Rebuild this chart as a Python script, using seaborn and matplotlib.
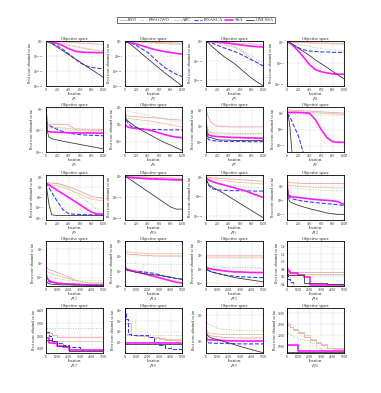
import matplotlib
matplotlib.use("Agg")
import matplotlib.pyplot as plt
from matplotlib.lines import Line2D
from matplotlib.ticker import NullLocator
import numpy as np
import seaborn as sns

ALGOS = ["IWO", "PWAGWO", "ABC", "ISSASCA", "SSA", "GNLSSA"]

ITER_1K = [0, 20, 50, 100, 200, 300, 400, 500, 600, 700, 800, 900, 1000]
ITER_5K = [0, 20, 100, 250, 500, 1000, 1500, 2000, 2500, 3000, 3500, 4000, 4500, 5000]

# log10 of best score, one row per algorithm (IWO, PWAGWO, ABC, ISSASCA, SSA, GNLSSA)
F1 = [[0, 0, -1, -2, -4, -6, -8, -10, -12, -14, -16, -18, -20],
      [0, 0, -1, -3, -8, -15, -22, -30, -38, -45, -52, -58, -62],
      [0, 0, -1, -3, -10, -18, -26, -34, -42, -50, -56, -62, -66],
      [0, -1, -3, -10, -30, -55, -85, -115, -145, -165, -175, -181, -185],
      [0, 0, -2, -5, -15, -30, -50, -65, -72, -74, -75, -76, -76],
      [0, -2, -6, -15, -40, -65, -90, -115, -140, -165, -190, -215, -240]]
F2 = [[0, 0, 0, -1, -1, -2, -2, -3, -3, -4, -4, -5, -5],
      [0, 0, -1, -1, -2, -3, -4, -5, -6, -7, -8, -9, -10],
      [0, 0, 0, -1, -2, -3, -4, -5, -6, -7, -8, -8, -9],
      [0, -1, -2, -5, -13, -25, -37, -55, -72, -88, -100, -110, -118],
      [0, 0, -1, -3, -8, -14, -20, -26, -30, -34, -37, -40, -42],
      [0, -1, -3, -10, -25, -42, -58, -74, -90, -106, -120, -135, -150]]
F3 = [[0, 0, 0, -1, -2, -4, -6, -8, -10, -12, -13, -15, -16],
      [0, 0, -1, -2, -6, -12, -18, -26, -38, -55, -75, -95, -110],
      [0, 0, -1, -3, -8, -14, -22, -32, -45, -65, -90, -110, -128],
      [0, -1, -3, -8, -20, -32, -42, -52, -65, -80, -95, -110, -126],
      [0, 0, 0, -1, -3, -6, -10, -14, -18, -22, -25, -27, -29],
      [0, -3, -10, -25, -50, -75, -95, -115, -140, -165, -190, -210, -228]]
F4 = [[0, 0, 0, -1, -1, -2, -2, -3, -3, -3, -4, -4, -4],
      [0, 0, -1, -2, -5, -8, -11, -14, -16, -18, -19, -20, -21],
      [0, 0, 0, -1, -1, -2, -3, -3, -4, -4, -5, -5, -5],
      [0, -1, -3, -7, -14, -19, -22, -23, -24, -24, -25, -25, -25],
      [0, -1, -3, -8, -22, -38, -55, -66, -71, -74, -76, -77, -77],
      [0, 0, -2, -6, -15, -24, -33, -43, -52, -61, -70, -79, -88]]
F5 = [[0, -6.8, -7, -7, -7.1, -7.2, -7.3, -9.2, -9.3, -9.3, -9.4, -9.4, -9.5],
      [0, -8.5, -8.8, -9, -9.2, -9.4, -9.6, -9.8, -10, -10.2, -10.3, -10.4, -10.5],
      [0, -8, -8.3, -8.4, -8.6, -8.8, -9, -9.5, -9.7, -9.8, -9.9, -9.9, -10],
      [0, -7, -7.5, -8.2, -9.5, -10.5, -11.2, -11.6, -11.9, -12.1, -12.2, -12.3, -12.4],
      [0, -10, -10.5, -10.7, -10.8, -10.9, -11, -11, -11.1, -11.1, -11.1, -11.2, -11.2],
      [0, -10, -13, -13.8, -14.4, -15, -15.5, -16, -16.5, -17, -17.5, -18, -18.5]]
F6 = [[4.5, 2.5, 2.4, 2.3, 2.2, 2.1, 2, 1.9, 1.8, 1.6, 1.4, 1.3, 1.2],
      [4.5, 4, 3.8, 3.6, 3.3, 3, 2.7, 2.3, 1.9, 1.5, 1.1, 0.8, 0.5],
      [4, 1.8, 1.7, 1.6, 1.4, 1.2, 1, 0.8, 0.5, 0.2, -0.2, -0.5, -0.8],
      [3, 1, 0.5, -0.5, -1, -1.3, -1.5, -1.5, -1.5, -1.6, -1.6, -1.6, -1.6],
      [0, -0.5, -0.8, -1, -1.2, -1.4, -1.6, -2, -2.5, -3, -3.4, -3.7, -3.9],
      [2, 1.5, 1, 0.3, -0.8, -1.8, -2.7, -3.6, -4.5, -5.3, -6, -6.8, -7.5]]
F7 = [[6, 4, 2.5, 1, 0, -0.1, -0.2, -0.2, -0.2, -0.2, -0.2, -0.2, -0.2],
      [3, 0, -1.5, -2, -2.4, -2.5, -2.6, -2.6, -2.6, -2.6, -2.6, -2.6, -2.6],
      [2, -1, -1.8, -2, -2.1, -2.1, -2.2, -2.2, -2.2, -2.2, -2.2, -2.2, -2.2],
      [0, -3.5, -4.2, -4.4, -4.6, -4.7, -4.7, -4.7, -4.7, -4.8, -4.8, -4.8, -4.8],
      [1, -2, -2.8, -3, -3.2, -3.3, -3.4, -3.5, -3.5, -3.6, -3.6, -3.7, -3.7],
      [0, -3, -3.5, -3.6, -4.2, -4.3, -4.3, -4.4, -4.4, -4.4, -4.4, -4.4, -4.4]]
F8 = [[1.5, 1.2, 1.1, 1, 0.9, 0.8, 0.7, 0.6, 0.5, 0.4, 0.3, 0.2, 0.1],
      [1, 0, -0.2, -0.3, -0.4, -0.4, -0.4, -0.4, -0.5, -0.5, -0.5, -0.5, -0.5],
      [1.2, 0.8, 0.7, 0.6, 0.5, 0.4, 0.3, 0.2, 0.1, 0, -0.1, -0.2, -0.3],
      [0, -0.3, -1, -3, -7, -13, -20, -30, -30, -30, -30, -30, -30],
      [0.5, 0.3, 0.3, 0.3, 0.3, 0.2, 0, -2, -5, -7.5, -8.8, -9, -9],
      [0, -0.5, -4, -15, -30, -30, -30, -30, -30, -30, -30, -30, -30]]
F9 = [[2.2, 2.2, 2.1, 2, 1.8, 1.2, 0.3, -0.8, -2, -3.2, -4.5, -5, -5.3],
      [2.2, 2.2, 2.2, 2.2, 2, 1, -0.5, -2.5, -4.5, -6.5, -8.5, -11, -13.5],
      [1.5, 1.5, 1.4, 1.2, 0.8, 0, -1, -2.2, -3.4, -4.6, -5.8, -6.3, -6.6],
      [2.2, 1.5, 0, -2.5, -7, -11, -13, -13.2, -13.3, -13.4, -13.5, -13.5, -13.5],
      [2.2, 1.8, 1.2, 0.3, -1.5, -3.3, -5, -6.8, -8.6, -10.4, -12.2, -13, -13.2],
      [2, -2, -8, -13.5, -13.8, -13.8, -13.8, -13.8, -13.8, -13.8, -13.8, -13.8, -13.8]]
F10 = [[0, -1, -1.5, -2, -3, -4, -5, -6, -7, -8, -9, -10, -11],
       [0, -1, -2, -3, -5, -7, -9, -11, -13, -15, -17, -19, -20],
       [-1, -2, -3, -4, -5, -6, -7, -8, -9, -10, -11, -12, -13],
       [-2, -4, -6, -8, -10, -12, -13, -14, -15, -16, -17, -17, -18],
       [-2, -3, -5, -7, -9, -11, -13, -14, -15, -16, -17, -18, -19],
       [0, -4, -9, -18, -37, -55, -74, -92, -111, -129, -148, -158, -158]]
F11 = [[0, 0, -1, -2, -3, -4, -5, -6, -7, -8, -9, -10, -11],
       [-5, -8, -12, -15, -18, -20, -22, -23, -24, -25, -26, -27, -28],
       [-2, -3, -4, -5, -7, -9, -11, -13, -14, -15, -16, -17, -18],
       [-5, -12, -22, -30, -33, -34, -35, -35, -35, -35, -36, -36, -36],
       [-2, -5, -8, -11, -16, -20, -24, -28, -32, -36, -42, -47, -52],
       [-5, -12, -20, -25, -33, -41, -50, -59, -68, -77, -86, -95, -104]]
F12 = [[4, 1.5, 1.3, 1.2, 1.1, 1, 1, 1, 1, 1, 1, 1, 1],
       [2, 0, -0.3, -0.5, -0.8, -1, -1.2, -1.3, -1.5, -1.5, -1.6, -1.6, -1.6],
       [3, 0.5, 0.3, 0.2, 0, -0.2, -0.3, -0.4, -0.5, -0.5, -0.6, -0.6, -0.6],
       [1, -3, -4, -4.5, -5, -5.3, -5.6, -5.8, -6, -6.2, -6.4, -6.6, -6.8],
       [1, -3, -3.5, -3.8, -4, -4.2, -4.5, -4.7, -4.9, -5, -5.2, -5.5, -6.5],
       [1, -4, -5.5, -6, -6.8, -7.4, -8, -8.5, -9, -9.5, -9.8, -10, -10]]
F13 = [[8, -0.8, -1.6, -2.1, -2.4, -3.2, -4, -4.8, -5.8, -6.4, -6.7, -6.9, -6.9, -6.9],
       [5, -3, -4, -4.6, -5, -5.4, -5.7, -6, -6, -6, -6, -6, -6, -6],
       [6, -2, -2.8, -3.2, -3.6, -4.2, -4.8, -5.4, -6, -6.5, -6.8, -7, -7, -7],
       [4, -5, -6, -6.5, -6.8, -7, -7.1, -7.2, -7.3, -7.4, -7.5, -7.5, -7.6, -7.6],
       [5, -4, -5.2, -6, -6.5, -7, -7.2, -7.3, -7.4, -7.5, -7.6, -7.6, -7.7, -7.7],
       [3, -6, -6.8, -7.2, -7.4, -7.5, -7.6, -7.6, -7.7, -7.7, -7.7, -7.8, -7.8, -7.8]]
F14 = [[6, 2.5, 2.4, 2.3, 2.2, 2.2, 2.1, 2.1, 2, 2, 2, 2, 2, 2],
       [5, 1.2, 1.1, 1, 1, 1, 0.9, 0.9, 0.9, 0.9, 0.9, 0.9, 0.9, 0.9],
       [5, 2.8, 2.7, 2.6, 2.5, 2.4, 2.4, 2.3, 2.3, 2.3, 2.3, 2.3, 2.3, 2.3],
       [4, 0.3, 0.2, 0.1, 0, 0, -0.1, -0.2, -0.3, -0.5, -0.7, -0.9, -1, -1.1],
       [4, 0.5, 0.3, 0.2, 0.1, -0.1, -0.3, -0.5, -0.7, -0.9, -1.1, -1.3, -1.5, -1.6],
       [4, 0.3, 0.2, 0.1, 0, -0.2, -0.3, -0.4, -0.5, -0.6, -0.7, -0.8, -1, -1.1]]
F15 = [[10, 4.7, 4.7, 4.7, 4.7, 4.7, 4.7, 4.7, 4.7, 4.7, 4.7, 4.7, 4.7, 4.7],
       [6, 1.5, 1.3, 1.2, 1, 0.8, 0.6, 0.5, 0.5, 0.5, 0.5, 0.5, 0.5, 0.5],
       [8, 4.2, 4.1, 4, 4, 4, 4, 4, 4, 4, 4, 4, 4, 4],
       [4, 0.4, 0, -0.5, -1, -1.5, -2, -2.3, -2.5, -2.7, -2.8, -2.9, -3, -3],
       [5, 0.7, 0.5, 0.3, 0, -0.3, -0.6, -0.8, -1, -1, -1.1, -1.2, -1.2, -1.2],
       [3, 0, -0.3, -0.6, -1, -1.5, -2, -2.5, -3, -3.3, -3.6, -3.9, -4.2, -4.5]]
# linear panel (raw values, x1e4)
F16 = [[1.55, 0.72, 0.72, 0.72, 0.72, 0.72, 0.72, 0.72, 0.72, 0.72, 0.72, 0.72, 0.72, 0.72],
       [1.5, 0.66, 0.65, 0.64, 0.64, 0.64, 0.64, 0.64, 0.64, 0.64, 0.64, 0.64, 0.64, 0.64],
       [1.5, 0.69, 0.69, 0.68, 0.68, 0.68, 0.68, 0.68, 0.68, 0.68, 0.68, 0.68, 0.68, 0.68],
       [1.3, 0.62, 0.55, 0.45, 0.36, 0.36, 0.36, 0.36, 0.36, 0.36, 0.36, 0.36, 0.36, 0.36],
       [1.55, 0.8, 0.75, 0.71, 0.7, 0.65, 0.59, 0.37, 0.37, 0.37, 0.37, 0.37, 0.37, 0.37],
       [0.9, 0.66, 0.65, 0.65, 0.65, 0.65, 0.43, 0.42, 0.42, 0.42, 0.41, 0.41, 0.41, 0.41]]
F17 = [[1417, 1225, 1225, 1225, 1210, 1190, 1190, 1190, 1190, 1190, 1190, 1190, 1190, 1190],
       [1417, 1300, 1262, 1262, 1262, 1262, 1262, 1262, 1262, 1262, 1262, 1262, 1262, 1262],
       [1300, 1163, 1163, 1163, 1163, 1163, 1163, 1163, 1163, 1163, 1163, 1163, 1163, 1163],
       [1417, 1235, 1235, 1200, 1150, 1150, 1130, 1112, 1112, 1095, 1095, 1095, 1095, 1095],
       [1417, 1187, 1187, 1150, 1150, 1125, 1112, 1095, 1095, 1095, 1095, 1095, 1095, 1095],
       [1300, 1173, 1173, 1173, 1160, 1125, 1125, 1088, 1088, 1088, 1088, 1088, 1088, 1088]]
F18 = [[4.2, 2.8, 2.8, 2.8, 1.7, 1.65, 1.6, 1.5, 1.4, 1.3, 1.26, 1.26, 1.26, 1.26],
       [3, 1.7, 1.7, 1.7, 1.7, 1.7, 1.7, 1.7, 1.7, 1.7, 1.7, 1.7, 1.7, 1.7],
       [3.5, 1.75, 1.75, 1.7, 1.65, 1.6, 1.55, 1.5, 1.45, 1.4, 1.35, 1.35, 1.35, 1.35],
       [4.2, 3.8, 3.15, 1.76, 1.68, 1.68, 1.68, 1.47, 1.05, 0.76, 0.5, 0.42, 0.34, 0.25],
       [0.92, 0.92, 0.92, 0.92, 0.92, 0.92, 0.92, 0.92, 0.92, 0.92, 0.92, 0.92, 0.92, 0.92],
       [0.86, 0.86, 0.86, 0.86, 0.86, 0.86, 0.86, 0.86, 0.86, 0.86, 0.86, 0.86, 0.86, 0.86]]
F19 = [[1.5, 0.5, 0.3, 0.25, 0.2, 0.18, 0.15, 0.14, 0.13, 0.13, 0.13, 0.13, 0.13, 0.13],
       [1.3, 0.75, 0.7, 0.65, 0.6, 0.5, 0.46, 0.44, 0.43, 0.42, 0.42, 0.42, 0.42, 0.42],
       [1.4, 0.55, 0.4, 0.32, 0.3, 0.28, 0.27, 0.26, 0.26, 0.26, 0.26, 0.26, 0.26, 0.26],
       [1.5, 0.1, -0.05, -0.06, -0.07, -0.08, -0.08, -0.09, -0.09, -0.1, -0.1, -0.1, -0.1, -0.1],
       [1.5, 0.2, 0.08, 0.06, 0.05, 0.04, 0.03, 0.02, 0.02, 0.01, 0.01, 0.01, 0.01, 0.01],
       [0.5, 0.32, 0.25, 0.18, 0.12, 0.07, 0.0, -0.06, -0.13, -0.2, -0.26, -0.32, -0.38, -0.44]]
F20 = [[2600, 2550, 2500, 2400, 2250, 2100, 1950, 1800, 1650, 1550, 1450, 1420, 1420, 1420],
       [2200, 2150, 2100, 2000, 1950, 1850, 1780, 1650, 1450, 1320, 1300, 1300, 1300, 1300],
       [2470, 2470, 2420, 2390, 2300, 2150, 2000, 1850, 1700, 1600, 1420, 1380, 1380, 1380],
       [3250, 1220, 1220, 1220, 1220, 1220, 1220, 1220, 1220, 1220, 1220, 1220, 1220, 1220],
       [3250, 1570, 1570, 1570, 1570, 1280, 1280, 1280, 1280, 1280, 1280, 1280, 1280, 1280],
       [3250, 1230, 1230, 1230, 1230, 1230, 1230, 1230, 1230, 1230, 1230, 1230, 1230, 1230]]

PANELS = [F1, F2, F3, F4, F5, F6, F7, F8, F9, F10,
          F11, F12, F13, F14, F15, F16, F17, F18, F19, F20]

# (log scale, y limits, y ticks) per panel; for log panels values are exponents
YSPEC = [(True, (-300, 2), [0, -100, -200, -300]),
         (True, (-150, 2), [0, -50, -100, -150]),
         (True, (-230, 2), [0, -100, -200]),
         (True, (-105, 2), [0, -50, -100]),
         (True, (-20, 1), [0, -10, -20]),
         (True, (-8, 5), [5, 0, -5]),
         (True, (-8, 6), [5, 0, -5]),
         (True, (-12, 2), [0, -5, -10]),
         (True, (-16, 6), [5, 0, -5, -10, -15]),
         (True, (-210, 5), [0, -100, -200]),
         (True, (-110, 5), [0, -50, -100]),
         (True, (-12, 4), [0, -5, -10]),
         (True, (-8, 8), [5, 0, -5]),
         (True, (-2, 4), [4, 2, 0, -2]),
         (True, (-6, 10), [10, 5, 0, -5]),
         (False, (0.35, 1.55), [0.4, 0.6, 0.8, 1.0, 1.2, 1.4]),
         (False, (1069, 1417), [1100, 1200, 1300, 1400]),
         (True, (0, 4.2), [1, 2, 3, 4]),
         (True, (-0.45, 1.28), [1, 0]),
         (False, (1200, 3250), [1500, 2000, 2500, 3000])]
STEP_PANELS = (15, 16, 17, 19)

COLORS = ["#f4a3a3", "#9ad49a", "#e9c3a4", "#3b3bff", "#ff1aff", "#3c3c3c"]
STYLES = ["-", ":", "-", "--", "-", "-"]
WIDTHS = [0.6, 0.7, 0.6, 0.8, 1.2, 0.6]

W, H = 381, 393
LEFTS = [46, 125, 206, 287]
TOPS = [41, 107, 175, 241, 308]
AX_W, AX_H = 57, 45

sns.set_theme(style="white")
plt.rcParams["font.family"] = ["Liberation Serif", "DejaVu Serif"]
plt.rcParams["mathtext.fontset"] = "stix"

fig = plt.figure(figsize=(W / 100, H / 100), dpi=100)

for i, data in enumerate(PANELS):
    r, c = divmod(i, 4)
    ax = fig.add_axes([LEFTS[c] / W, 1 - (TOPS[r] + AX_H) / H, AX_W / W, AX_H / H])
    x = ITER_1K if r < 3 else ITER_5K
    is_log, lim, ticks = YSPEC[i]
    ds = "steps-post" if i in STEP_PANELS else "default"
    for k, name in enumerate(ALGOS):
        y = np.array(data[k], dtype=float)
        if is_log:
            y = 10.0 ** y
        sns.lineplot(x=x, y=y, ax=ax, color=COLORS[k], linestyle=STYLES[k],
                     linewidth=WIDTHS[k], drawstyle=ds)
    if is_log:
        ax.set_yscale("log")
        ax.set_ylim(10.0 ** lim[0], 10.0 ** lim[1])
        ax.set_yticks([10.0 ** t for t in ticks])
    else:
        ax.set_ylim(*lim)
        ax.set_yticks(ticks)
    ax.yaxis.set_minor_locator(NullLocator())
    ax.set_xlim(0, x[-1])
    ax.set_xticks(np.linspace(0, x[-1], 6))
    ax.grid(True, color="#dcdcdc", linewidth=0.3)
    ax.tick_params(labelsize=2.5, length=1, width=0.3, pad=0.5)
    ax.yaxis.get_offset_text().set_fontsize(2.5)
    for s in ax.spines.values():
        s.set_linewidth(0.6)
        s.set_color("black")
    ax.set_title("Objective space", fontsize=3.1, pad=0.6)
    ax.set_xlabel("Iteration", fontsize=2.9, labelpad=0.1)
    ax.set_ylabel("Best score obtained so far", fontsize=2.8, labelpad=0.8)
    fig.text((LEFTS[c] + AX_W / 2) / W, 1 - (TOPS[r] + AX_H + 13.4) / H,
             "$F_{%d}$" % (i + 1), ha="center", va="center", fontsize=3.5)

handles = [Line2D([], [], color=COLORS[k], linestyle=STYLES[k], linewidth=WIDTHS[k])
           for k in range(len(ALGOS))]
leg = fig.legend(handles, ALGOS, loc="center", bbox_to_anchor=(196 / W, 1 - 20 / H),
                 ncol=6, fontsize=3.3, frameon=True, fancybox=False, handlelength=1.8,
                 columnspacing=0.5, handletextpad=0.3, borderpad=0.3)
leg.get_frame().set_edgecolor("black")
leg.get_frame().set_linewidth(0.5)

fig.savefig("out.png", dpi=100)
